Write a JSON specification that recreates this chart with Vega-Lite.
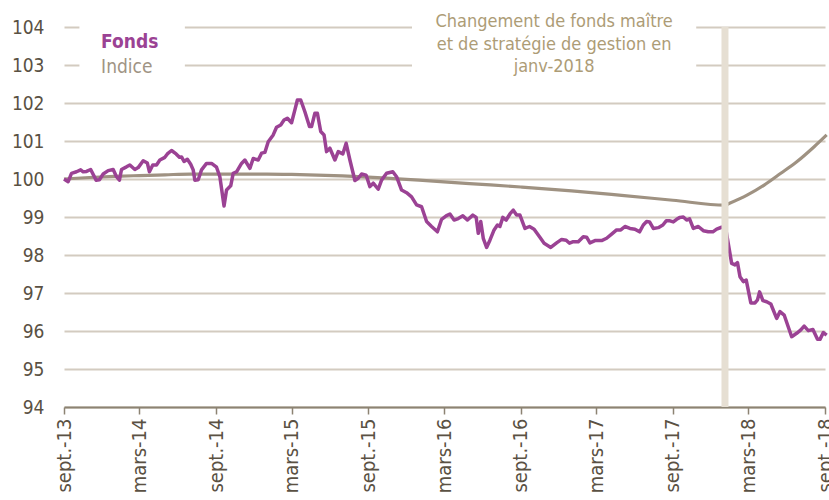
{
  "$schema": "https://vega.github.io/schema/vega-lite/v6.json",
  "width": 761,
  "height": 380,
  "autosize": {"type": "none"},
  "padding": {"left": 64, "top": 27, "right": 4, "bottom": 93},
  "background": "white",
  "config": {
    "view": {"stroke": null},
    "font": "DejaVu Sans Condensed, DejaVu Sans, sans-serif"
  },
  "datasets": {
    "fonds": [
      {"date": "2013-09-01", "value": 100.0},
      {"date": "2013-09-11", "value": 99.93},
      {"date": "2013-09-19", "value": 100.15},
      {"date": "2013-10-01", "value": 100.19},
      {"date": "2013-10-11", "value": 100.24},
      {"date": "2013-10-17", "value": 100.19},
      {"date": "2013-10-25", "value": 100.2},
      {"date": "2013-11-04", "value": 100.25},
      {"date": "2013-11-17", "value": 99.97},
      {"date": "2013-11-25", "value": 99.98},
      {"date": "2013-12-04", "value": 100.13},
      {"date": "2013-12-16", "value": 100.22},
      {"date": "2013-12-28", "value": 100.25},
      {"date": "2014-01-05", "value": 100.06},
      {"date": "2014-01-12", "value": 99.97},
      {"date": "2014-01-17", "value": 100.25},
      {"date": "2014-01-29", "value": 100.32},
      {"date": "2014-02-06", "value": 100.37},
      {"date": "2014-02-18", "value": 100.25},
      {"date": "2014-02-26", "value": 100.3},
      {"date": "2014-03-10", "value": 100.48},
      {"date": "2014-03-20", "value": 100.42},
      {"date": "2014-03-25", "value": 100.19},
      {"date": "2014-04-02", "value": 100.37},
      {"date": "2014-04-11", "value": 100.37},
      {"date": "2014-04-19", "value": 100.5},
      {"date": "2014-05-01", "value": 100.57},
      {"date": "2014-05-07", "value": 100.66},
      {"date": "2014-05-17", "value": 100.75},
      {"date": "2014-05-28", "value": 100.66},
      {"date": "2014-06-05", "value": 100.57},
      {"date": "2014-06-10", "value": 100.58},
      {"date": "2014-06-16", "value": 100.46},
      {"date": "2014-06-24", "value": 100.52},
      {"date": "2014-07-02", "value": 100.39},
      {"date": "2014-07-08", "value": 100.24},
      {"date": "2014-07-12", "value": 99.97},
      {"date": "2014-07-20", "value": 99.98},
      {"date": "2014-07-28", "value": 100.24},
      {"date": "2014-08-09", "value": 100.41},
      {"date": "2014-08-21", "value": 100.41},
      {"date": "2014-09-02", "value": 100.31},
      {"date": "2014-09-10", "value": 100.06},
      {"date": "2014-09-20", "value": 99.29},
      {"date": "2014-09-26", "value": 99.71},
      {"date": "2014-10-06", "value": 99.82},
      {"date": "2014-10-12", "value": 100.15},
      {"date": "2014-10-20", "value": 100.19},
      {"date": "2014-11-01", "value": 100.41},
      {"date": "2014-11-09", "value": 100.5},
      {"date": "2014-11-21", "value": 100.28},
      {"date": "2014-11-29", "value": 100.54},
      {"date": "2014-12-11", "value": 100.5},
      {"date": "2014-12-19", "value": 100.68},
      {"date": "2014-12-27", "value": 100.7},
      {"date": "2015-01-04", "value": 100.98},
      {"date": "2015-01-16", "value": 101.16},
      {"date": "2015-01-24", "value": 101.36},
      {"date": "2015-02-03", "value": 101.42},
      {"date": "2015-02-11", "value": 101.55},
      {"date": "2015-02-19", "value": 101.6},
      {"date": "2015-03-01", "value": 101.48},
      {"date": "2015-03-09", "value": 101.82},
      {"date": "2015-03-15", "value": 102.08},
      {"date": "2015-03-23", "value": 102.08},
      {"date": "2015-04-02", "value": 101.77},
      {"date": "2015-04-13", "value": 101.38},
      {"date": "2015-04-18", "value": 101.38},
      {"date": "2015-04-26", "value": 101.73},
      {"date": "2015-05-02", "value": 101.73},
      {"date": "2015-05-10", "value": 101.25},
      {"date": "2015-05-18", "value": 101.16},
      {"date": "2015-05-24", "value": 100.72},
      {"date": "2015-06-01", "value": 100.81},
      {"date": "2015-06-13", "value": 100.5},
      {"date": "2015-06-21", "value": 100.72},
      {"date": "2015-07-02", "value": 100.66},
      {"date": "2015-07-10", "value": 100.94},
      {"date": "2015-07-19", "value": 100.5},
      {"date": "2015-07-31", "value": 99.96},
      {"date": "2015-08-08", "value": 100.02},
      {"date": "2015-08-16", "value": 100.13},
      {"date": "2015-08-27", "value": 100.1},
      {"date": "2015-09-05", "value": 99.8},
      {"date": "2015-09-13", "value": 99.89},
      {"date": "2015-09-25", "value": 99.73},
      {"date": "2015-10-03", "value": 99.97},
      {"date": "2015-10-15", "value": 100.15},
      {"date": "2015-10-30", "value": 100.19},
      {"date": "2015-11-08", "value": 100.06},
      {"date": "2015-11-20", "value": 99.71},
      {"date": "2015-12-02", "value": 99.64},
      {"date": "2015-12-14", "value": 99.53},
      {"date": "2015-12-26", "value": 99.32},
      {"date": "2016-01-07", "value": 99.27},
      {"date": "2016-01-19", "value": 98.88},
      {"date": "2016-01-31", "value": 98.75},
      {"date": "2016-02-14", "value": 98.61},
      {"date": "2016-02-24", "value": 98.94},
      {"date": "2016-03-06", "value": 99.03},
      {"date": "2016-03-15", "value": 99.08},
      {"date": "2016-03-25", "value": 98.92},
      {"date": "2016-04-04", "value": 98.96},
      {"date": "2016-04-15", "value": 99.03},
      {"date": "2016-04-26", "value": 98.92},
      {"date": "2016-05-09", "value": 99.05},
      {"date": "2016-05-17", "value": 98.99},
      {"date": "2016-05-22", "value": 98.57},
      {"date": "2016-05-28", "value": 98.88},
      {"date": "2016-06-03", "value": 98.44},
      {"date": "2016-06-11", "value": 98.2},
      {"date": "2016-06-19", "value": 98.39},
      {"date": "2016-06-29", "value": 98.66},
      {"date": "2016-07-07", "value": 98.79},
      {"date": "2016-07-13", "value": 98.75},
      {"date": "2016-07-20", "value": 98.99},
      {"date": "2016-07-28", "value": 98.92},
      {"date": "2016-08-06", "value": 99.08},
      {"date": "2016-08-14", "value": 99.18},
      {"date": "2016-08-22", "value": 99.05},
      {"date": "2016-08-30", "value": 99.05},
      {"date": "2016-09-11", "value": 98.7},
      {"date": "2016-09-22", "value": 98.75},
      {"date": "2016-10-03", "value": 98.68},
      {"date": "2016-10-16", "value": 98.48},
      {"date": "2016-10-27", "value": 98.31},
      {"date": "2016-11-12", "value": 98.2},
      {"date": "2016-11-26", "value": 98.32},
      {"date": "2016-12-08", "value": 98.41},
      {"date": "2016-12-19", "value": 98.39},
      {"date": "2016-12-27", "value": 98.31},
      {"date": "2017-01-05", "value": 98.35},
      {"date": "2017-01-17", "value": 98.35},
      {"date": "2017-01-29", "value": 98.48},
      {"date": "2017-02-06", "value": 98.47},
      {"date": "2017-02-14", "value": 98.32},
      {"date": "2017-02-26", "value": 98.38},
      {"date": "2017-03-14", "value": 98.38},
      {"date": "2017-03-26", "value": 98.44},
      {"date": "2017-04-07", "value": 98.55},
      {"date": "2017-04-19", "value": 98.66},
      {"date": "2017-04-29", "value": 98.66},
      {"date": "2017-05-09", "value": 98.75},
      {"date": "2017-05-21", "value": 98.7},
      {"date": "2017-06-02", "value": 98.68},
      {"date": "2017-06-13", "value": 98.61},
      {"date": "2017-06-22", "value": 98.79},
      {"date": "2017-06-30", "value": 98.88},
      {"date": "2017-07-07", "value": 98.87},
      {"date": "2017-07-16", "value": 98.7},
      {"date": "2017-07-28", "value": 98.72},
      {"date": "2017-08-08", "value": 98.79},
      {"date": "2017-08-16", "value": 98.9},
      {"date": "2017-08-25", "value": 98.9},
      {"date": "2017-09-02", "value": 98.87},
      {"date": "2017-09-10", "value": 98.94},
      {"date": "2017-09-18", "value": 98.99},
      {"date": "2017-09-26", "value": 99.0},
      {"date": "2017-10-04", "value": 98.92},
      {"date": "2017-10-11", "value": 98.95},
      {"date": "2017-10-20", "value": 98.7},
      {"date": "2017-11-01", "value": 98.75},
      {"date": "2017-11-13", "value": 98.64},
      {"date": "2017-11-25", "value": 98.61},
      {"date": "2017-12-06", "value": 98.61},
      {"date": "2017-12-15", "value": 98.68},
      {"date": "2017-12-27", "value": 98.73},
      {"date": "2018-01-05", "value": 98.75},
      {"date": "2018-01-20", "value": 97.78},
      {"date": "2018-01-28", "value": 97.74},
      {"date": "2018-02-03", "value": 97.8},
      {"date": "2018-02-09", "value": 97.43},
      {"date": "2018-02-17", "value": 97.3},
      {"date": "2018-02-24", "value": 97.34},
      {"date": "2018-03-07", "value": 96.74},
      {"date": "2018-03-17", "value": 96.74},
      {"date": "2018-03-23", "value": 96.82},
      {"date": "2018-03-28", "value": 97.03},
      {"date": "2018-04-05", "value": 96.8},
      {"date": "2018-04-14", "value": 96.77},
      {"date": "2018-04-24", "value": 96.71},
      {"date": "2018-05-08", "value": 96.33},
      {"date": "2018-05-16", "value": 96.51},
      {"date": "2018-05-26", "value": 96.42},
      {"date": "2018-06-13", "value": 95.85},
      {"date": "2018-06-25", "value": 95.94},
      {"date": "2018-07-05", "value": 96.03},
      {"date": "2018-07-13", "value": 96.13},
      {"date": "2018-07-23", "value": 96.01},
      {"date": "2018-08-03", "value": 96.04},
      {"date": "2018-08-14", "value": 95.78},
      {"date": "2018-08-20", "value": 95.78},
      {"date": "2018-08-28", "value": 95.96},
      {"date": "2018-09-05", "value": 95.89}
    ],
    "indice": [
      {"date": "2013-09-01", "value": 100.0},
      {"date": "2013-11-01", "value": 100.04},
      {"date": "2014-01-01", "value": 100.07},
      {"date": "2014-03-01", "value": 100.09},
      {"date": "2014-05-01", "value": 100.11},
      {"date": "2014-07-01", "value": 100.13},
      {"date": "2014-09-01", "value": 100.13},
      {"date": "2014-11-01", "value": 100.13},
      {"date": "2015-01-01", "value": 100.13},
      {"date": "2015-03-01", "value": 100.12},
      {"date": "2015-05-01", "value": 100.1},
      {"date": "2015-07-01", "value": 100.08},
      {"date": "2015-09-01", "value": 100.05},
      {"date": "2015-11-01", "value": 100.01},
      {"date": "2016-01-01", "value": 99.97},
      {"date": "2016-05-01", "value": 99.88},
      {"date": "2016-09-01", "value": 99.79},
      {"date": "2017-01-01", "value": 99.69},
      {"date": "2017-05-01", "value": 99.57},
      {"date": "2017-09-01", "value": 99.44},
      {"date": "2018-01-04", "value": 99.31},
      {"date": "2018-01-15", "value": 99.36},
      {"date": "2018-02-27", "value": 99.58},
      {"date": "2018-04-08", "value": 99.84},
      {"date": "2018-05-18", "value": 100.15},
      {"date": "2018-06-26", "value": 100.46},
      {"date": "2018-08-06", "value": 100.85},
      {"date": "2018-09-05", "value": 101.16}
    ],
    "legendMask": [
      {"start": "2013-10-08", "end": "2014-06-18"}
    ],
    "noteMask": [
      {"start": "2015-12-15", "end": "2017-10-27"}
    ],
    "event": [
      {"date": "2018-01-04", "note": "Changement de fonds maître et de stratégie de gestion en janv-2018"}
    ]
  },
  "layer": [
    {
      "data": {"name": "indice"},
      "mark": {"type": "line", "color": "#9f9282", "strokeWidth": 3.2, "interpolate": "monotone"},
      "encoding": {
        "x": {
          "field": "date",
          "type": "temporal",
          "title": null,
          "scale": {"domain": ["2013-09-01", "2018-09-01"]},
          "axis": {
            "values": ["2013-09-01", "2014-03-01", "2014-09-01", "2015-03-01", "2015-09-01", "2016-03-01", "2016-09-01", "2017-03-01", "2017-09-01", "2018-03-01", "2018-09-01"],
            "labelExpr": "(utcmonth(datum.value) == 8 ? 'sept.-' : 'mars-') + utcFormat(datum.value, '%y')",
            "labelAngle": -90,
            "labelFontSize": 20,
            "labelColor": "#5a5143",
            "labelPadding": 4,
            "labelOverlap": false,
            "labelFlush": false,
            "grid": false,
            "domainColor": "#8c8373",
            "domainWidth": 2,
            "tickColor": "#8c8373",
            "tickWidth": 1.5,
            "tickSize": 7
          }
        },
        "y": {
          "field": "value",
          "type": "quantitative",
          "title": null,
          "scale": {"domain": [94, 104], "zero": false, "nice": false},
          "axis": {
            "tickCount": 12,
            "labelFontSize": 19,
            "labelColor": "#5a5143",
            "labelPadding": 20,
            "labelOverlap": false,
            "labelFlush": false,
            "ticks": false,
            "tickSize": 0,
            "domain": false,
            "grid": true,
            "gridColor": "#d3cbc0",
            "gridWidth": 2
          }
        }
      }
    },
    {
      "data": {"name": "fonds"},
      "mark": {"type": "line", "color": "#9b4294", "strokeWidth": 3.5, "strokeJoin": "round"},
      "encoding": {
        "x": {"field": "date", "type": "temporal", "title": null},
        "y": {"field": "value", "type": "quantitative", "title": null}
      }
    },
    {
      "data": {"name": "noteMask"},
      "mark": {"type": "rect", "fill": "white"},
      "encoding": {
        "x": {"field": "start", "type": "temporal", "title": null},
        "x2": {"field": "end"},
        "y": {"datum": 102.55, "type": "quantitative", "title": null},
        "y2": {"datum": 104.15}
      }
    },
    {
      "data": {"name": "legendMask"},
      "mark": {"type": "rect", "fill": "white"},
      "encoding": {
        "x": {"field": "start", "type": "temporal", "title": null},
        "x2": {"field": "end"},
        "y": {"datum": 102.55, "type": "quantitative", "title": null},
        "y2": {"datum": 104.15}
      }
    },
    {
      "data": {"name": "event"},
      "mark": {"type": "rule", "color": "#e6dfd3", "strokeWidth": 7},
      "encoding": {
        "x": {"field": "date", "type": "temporal", "title": null},
        "y": {"datum": 94, "title": null},
        "y2": {"datum": 104}
      }
    },
    {
      "data": {"name": "event"},
      "mark": {"type": "text", "text": "Fonds", "align": "left", "baseline": "middle", "fontSize": 19, "fontWeight": "bold", "color": "#9b4294"},
      "encoding": {
        "x": {"datum": {"year": 2013, "month": 11, "date": 29}, "type": "temporal", "title": null},
        "y": {"datum": 103.6, "title": null}
      }
    },
    {
      "data": {"name": "event"},
      "mark": {"type": "text", "text": "Indice", "align": "left", "baseline": "middle", "fontSize": 19, "color": "#9f9484"},
      "encoding": {
        "x": {"datum": {"year": 2013, "month": 11, "date": 29}, "type": "temporal", "title": null},
        "y": {"datum": 102.95, "title": null}
      }
    },
    {
      "data": {"name": "event"},
      "mark": {"type": "text", "text": ["Changement de fonds maître", "et de stratégie de gestion en", "janv-2018"], "align": "center", "baseline": "middle", "fontSize": 18, "lineHeight": 22.5, "color": "#ad9c76"},
      "encoding": {
        "x": {"datum": {"year": 2016, "month": 11, "date": 20}, "type": "temporal", "title": null},
        "y": {"datum": 104.13, "title": null}
      }
    }
  ]
}
